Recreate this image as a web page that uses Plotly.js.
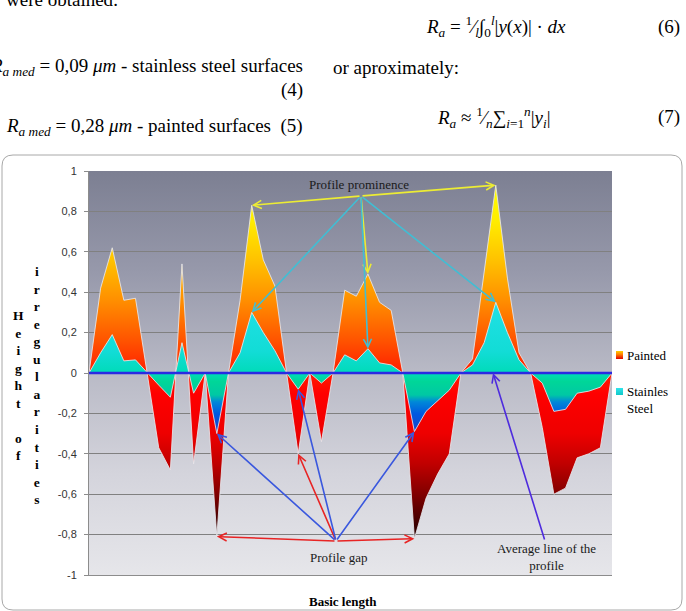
<!DOCTYPE html>
<html>
<head>
<meta charset="utf-8">
<script src="https://cdn.plot.ly/plotly-3.0.1.min.js"></script>
<style>
  html, body { margin: 0; padding: 0; background: #ffffff; }
  #chart { width: 686px; height: 611px; }
</style>
</head>
<body>
<div id="chart"></div>
<script>
// Height of surface irregularities (µm) sampled along the basic length
const painted = [0, 0.42, 0.62, 0.36, 0.37, 0, -0.37, -0.48, 0.54, -0.45,
                 0, -0.81, 0, 0.36, 0.83, 0.56, 0.43, 0, -0.40, 0,
                 -0.34, 0, 0.41, 0.38, 0.49, 0.35, 0.31, 0, -0.82, -0.62,
                 -0.50, -0.40, 0, 0.07, 0.51, 0.93, 0.47, 0.10, 0, -0.27,
                 -0.60, -0.57, -0.42, -0.40, -0.37, 0];
const stainless = [0, 0.10, 0.19, 0.06, 0.065, 0, -0.06, -0.12, 0.15, -0.10,
                   0, -0.30, 0, 0.10, 0.30, 0.20, 0.11, 0, -0.08, 0,
                   -0.05, 0, 0.09, 0.06, 0.12, 0.05, 0.04, 0, -0.29, -0.19,
                   -0.135, -0.085, 0, 0.04, 0.15, 0.35, 0.20, 0.065, 0, -0.05,
                   -0.19, -0.18, -0.10, -0.09, -0.07, 0];
const seriesNames = ['Painted', 'Stainles<br>Steel'];
const yTickValues = [-1, -0.8, -0.6, -0.4, -0.2, 0, 0.2, 0.4, 0.6, 0.8, 1];
const yTickLabels = ['-1', '-0,8', '-0,6', '-0,4', '-0,2', '0', '0,2', '0,4', '0,6', '0,8', '1'];
const points = painted.map((_, i) => i);

// page geometry (pixels) and helpers to convert to paper / data units
const W = 686, H = 611;
const M = { l: 89, r: 74, t: 171, b: 36 };
const pw = W - M.l - M.r, ph = H - M.t - M.b;
const px = v => (v - M.l) / pw;
const py = v => (H - M.b - v) / ph;
const dx = v => (v - M.l) / pw * (points.length - 1);
const dy = v => 1 - (v - M.t) / ph * 2;

const svgURI = s => 'data:image/svg+xml;base64,' + btoa(s);
const gradSVG = stops => svgURI(
  '<svg xmlns="http://www.w3.org/2000/svg" viewBox="0 0 10 10" preserveAspectRatio="none">' +
  '<defs><linearGradient id="g" x1="0" y1="0" x2="0" y2="1">' +
  stops.map(s => '<stop offset="' + s[0] + '" stop-color="' + s[1] + '"/>').join('') +
  '</linearGradient></defs><rect width="10" height="10" fill="url(#g)"/></svg>');

const serif = 'Liberation Serif, Times New Roman, serif';

const traces = [
  {
    name: seriesNames[0], x: points, y: painted, type: 'scatter', mode: 'lines',
    fill: 'tozeroy', fillcolor: '#ff3000',
    line: { color: 'rgba(232,232,236,0.85)', width: 1 },
    fillgradient: {
      type: 'vertical', start: -0.85, stop: 0.93,
      colorscale: [
        [0, '#1a0000'], [0.056, '#3c0000'], [0.14, '#800000'], [0.225, '#c00000'],
        [0.309, '#ee0000'], [0.421, '#ff0000'], [0.478, '#ff1e00'], [0.562, '#ff5000'],
        [0.674, '#ff8c00'], [0.787, '#ffc000'], [0.899, '#ffec00'], [1, '#ffff00']
      ]
    },
    showlegend: false, hoverinfo: 'skip'
  },
  {
    name: seriesNames[1], x: points, y: stainless, type: 'scatter', mode: 'lines',
    fill: 'tozeroy', fillcolor: '#10dcd0',
    line: { color: 'rgba(232,232,236,0.85)', width: 1 },
    fillgradient: {
      type: 'vertical', start: -0.31, stop: 0.36,
      colorscale: [
        [0, '#1b3fc6'], [0.16, '#0058e0'], [0.25, '#0088d8'], [0.3, '#00c8a4'],
        [0.4, '#00d698'], [0.46, '#00dbb8'], [0.62, '#12dcd6'], [1, '#22e0e6']
      ]
    },
    showlegend: false, hoverinfo: 'skip'
  }
];

function arrow(x, y, ax, ay, color) {
  return { x, y, ax, ay, xref: 'x', yref: 'y', axref: 'x', ayref: 'y', text: '',
           showarrow: true, arrowhead: 5, arrowsize: 1, arrowwidth: 1.6,
           arrowcolor: color, standoff: 0, startstandoff: 0 };
}
const yellow = 'rgb(236,236,52)', cyan = 'rgb(64,190,212)',
      red = 'rgb(232,36,36)', blue = 'rgb(58,88,222)', violet = 'rgb(78,44,222)';
const promX = dx(361), promY = dy(196);
const gapX = dx(336), gapY = dy(541);
const avgX = dx(545), avgY = dy(541);

function pageText(text, x, y, xanchor, size, extra) {
  return Object.assign({ text, x: px(x), y: py(y), xref: 'paper', yref: 'paper',
    xanchor, yanchor: 'middle', showarrow: false,
    font: { family: serif, size, color: '#000000' } }, extra || {});
}
const stack = s => s.split('').map(c => c === ' ' ? '&nbsp;' : c).join('<br>');
const bodySize = 19;

const annotations = [
  // surrounding text of the page
  pageText('were obtained:', 4, -1, 'left', bodySize),
  pageText('<i>R<sub>a</sub></i> = <sup>1</sup>⁄<sub><i>l</i></sub>∫<sub>0</sub><sup><i>l</i></sup>|<i>y</i>(<i>x</i>)| · <i>dx</i>', 424, 27, 'left', bodySize),
  pageText('(6)', 682, 27, 'right', bodySize),
  pageText('<i>R<sub>a med</sub></i> = 0,09 <i>μm</i> - stainless steel surfaces', 305, 67, 'right', bodySize),
  pageText('(4)', 305, 90, 'right', bodySize),
  pageText('or aproximately:', 331, 67, 'left', bodySize),
  pageText('<i>R<sub>a</sub></i> ≈ <sup>1</sup>⁄<sub><i>n</i></sub>∑<sub><i>i</i>=1</sub><sup><i>n</i></sup>|<i>y<sub>i</sub></i>|', 435, 117, 'left', bodySize),
  pageText('(7)', 682, 117, 'right', bodySize),
  pageText('<i>R<sub>a med</sub></i> = 0,28 <i>μm</i> - painted surfaces  (5)', 305, 127, 'right', bodySize),

  // axis titles
  pageText('<b>' + stack('Height of') + '</b>', 18, 385, 'center', 13.5),
  pageText('<b>' + stack('irregularities') + '</b>', 37, 385, 'center', 13.5),
  pageText('<b>Basic length</b>', 343, 601, 'center', 13),

  // legend
  pageText(seriesNames[0], 625, 355, 'left', 13, { align: 'left' }),
  pageText(seriesNames[1], 625, 400, 'left', 13, { align: 'left' }),

  // callout labels
  pageText('Profile prominence', 359, 184, 'center', 13, { font: { family: serif, size: 13, color: '#1a1a1a' } }),
  pageText('Profile gap', 338, 557, 'center', 13, { font: { family: serif, size: 13, color: '#1a1a1a' } }),
  pageText('Average line of the<br>profile', 546, 557, 'center', 13, { font: { family: serif, size: 13, color: '#1a1a1a' } }),

  // profile prominence: peaks of both surfaces
  arrow(14, painted[14], promX, promY, yellow),
  arrow(35, painted[35], promX, promY, yellow),
  arrow(24, painted[24], promX, promY, yellow),
  arrow(14, stainless[14], promX, promY, cyan),
  arrow(24, stainless[24], promX, promY, cyan),
  arrow(35, stainless[35], promX, promY, cyan),

  // profile gap: valleys of both surfaces
  arrow(11, painted[11], gapX, gapY, red),
  arrow(18, painted[18], gapX, gapY, red),
  arrow(28, painted[28], gapX, gapY, red),
  arrow(11, stainless[11], gapX, gapY, blue),
  arrow(18, stainless[18], gapX, gapY, blue),
  arrow(28, stainless[28], gapX, gapY, blue),

  // average line
  arrow(dx(493), 0, avgX, avgY, violet)
];

// rounded frame around the chart
const fx0 = px(2), fx1 = px(682), fy0 = py(610), fy1 = py(155);
const rx = 11 / pw, ry = 11 / ph;
const framePath =
  `M${fx0},${fy0 + ry} L${fx0},${fy1 - ry} Q${fx0},${fy1} ${fx0 + rx},${fy1} ` +
  `L${fx1 - rx},${fy1} Q${fx1},${fy1} ${fx1},${fy1 - ry} L${fx1},${fy0 + ry} ` +
  `Q${fx1},${fy0} ${fx1 - rx},${fy0} L${fx0 + rx},${fy0} Q${fx0},${fy0} ${fx0},${fy0 + ry} Z`;

const layout = {
  width: W, height: H,
  margin: M,
  paper_bgcolor: '#ffffff',
  plot_bgcolor: 'rgba(0,0,0,0)',
  showlegend: false,
  hovermode: false,
  font: { family: 'Liberation Sans, Arial, sans-serif', size: 11, color: '#333333' },
  xaxis: {
    range: [0, points.length - 1], showgrid: false, zeroline: false,
    showticklabels: false, ticks: '', showline: true, linecolor: '#8c8c8c', linewidth: 1,
    fixedrange: true
  },
  yaxis: {
    range: [-1, 1], tickvals: yTickValues, ticktext: yTickLabels,
    showgrid: true, gridcolor: '#808080', gridwidth: 1, zeroline: false,
    showline: true, linecolor: '#8c8c8c', linewidth: 1,
    ticks: 'outside', ticklen: 4, tickcolor: '#8c8c8c', ticklabelstandoff: 5,
    tickfont: { family: 'Liberation Sans, Arial, sans-serif', size: 11, color: '#333333' },
    fixedrange: true
  },
  images: [
    {
      source: gradSVG([[0, '#7c7f92'], [0.25, '#9799ab'], [0.5, '#b9bac6'], [0.75, '#d4d4dc'], [1, '#e6e6ea']]),
      xref: 'x', yref: 'y', x: 0, y: 1, sizex: points.length - 1, sizey: 2,
      xanchor: 'left', yanchor: 'top', sizing: 'stretch', layer: 'below'
    },
    {
      source: gradSVG([[0, '#ffd000'], [0.45, '#ff7a00'], [1, '#e00000']]),
      xref: 'paper', yref: 'paper', x: px(616), y: py(351), sizex: 7 / pw, sizey: 8 / ph,
      xanchor: 'left', yanchor: 'top', sizing: 'stretch', layer: 'above'
    },
    {
      source: gradSVG([[0, '#30e4ec'], [1, '#10c8c8']]),
      xref: 'paper', yref: 'paper', x: px(616), y: py(388), sizex: 7 / pw, sizey: 7 / ph,
      xanchor: 'left', yanchor: 'top', sizing: 'stretch', layer: 'above'
    }
  ],
  shapes: [
    { type: 'path', path: framePath, xref: 'paper', yref: 'paper',
      line: { color: '#a8a8a8', width: 1 }, fillcolor: 'rgba(0,0,0,0)', layer: 'below' },
    // average line of the profile
    { type: 'line', xref: 'x domain', yref: 'y', x0: 0, x1: 1, y0: 0, y1: 0,
      line: { color: 'rgb(42,42,226)', width: 2.5 }, layer: 'above' }
  ],
  annotations
};

Plotly.newPlot('chart', traces, layout, { displayModeBar: false, staticPlot: true });
</script>
</body>
</html>
